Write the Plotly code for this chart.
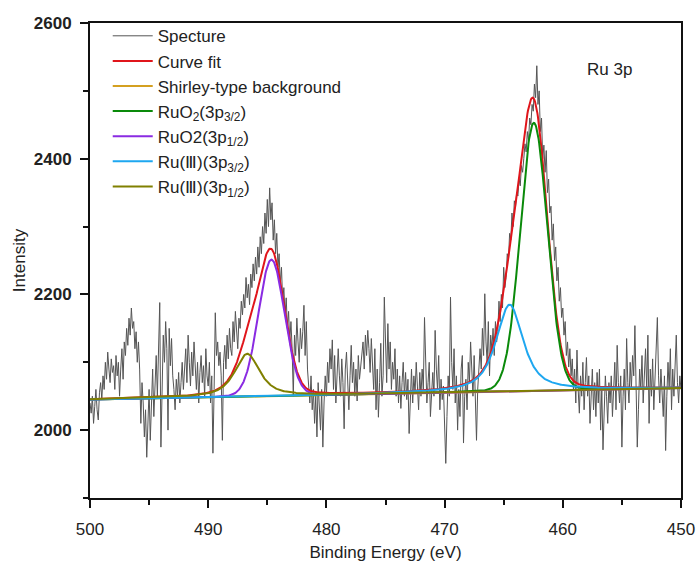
import numpy as np
import plotly.graph_objects as go

# ---------------- data ----------------
energy_start = 500.0
energy_step = -0.1
spectrum_counts = [
    2040, 2025, 2050, 2010, 2035, 2060, 2030, 2015, 2055, 2070,
    2045, 2080, 2060, 2100, 2075, 2115, 2090, 2070, 2105, 2085,
    2095, 2060, 2110, 2080, 2100, 2050, 2090, 2120, 2075, 2130,
    2110, 2150, 2125, 2165, 2140, 2180, 2150, 2160, 2120, 2145,
    2100, 2130, 2090, 2010, 2070, 2040, 1990, 2030, 1960, 2000,
    2060, 1985, 2040, 2090, 2020, 2070, 2110, 2050, 2130, 2188,
    1975, 2080, 2140, 2100, 2160, 2120, 2000, 2150, 2095, 2135,
    2080, 2060, 2030, 2075, 2050, 2085, 2040, 2070, 2100, 2060,
    2090, 2120, 2070, 2140, 2100, 2065, 2115, 2080, 2130, 2095,
    2060, 2100, 2040, 2085, 2110, 2070, 2095, 2050, 2120, 2080,
    2065, 2100, 2040, 2080, 1966, 2060, 2173, 2110, 2130, 2095,
    2115, 2080, 1985, 2100, 2125, 2090, 2140, 2105, 2150, 2120,
    2110, 2160, 2130, 2175, 2140, 2120, 2165, 2150, 2190, 2170,
    2200, 2180, 2225, 2195, 2215, 2185, 2230, 2210, 2245, 2220,
    2255, 2230, 2270, 2240, 2285, 2260, 2300, 2275, 2320, 2290,
    2340, 2300, 2357, 2310, 2335, 2280, 2310, 2260, 2290, 2240,
    2260, 2215, 2240, 2190, 2210, 2170, 2195, 2150, 2175, 2130,
    2160, 2120, 2050, 2140, 2110, 2165, 2130, 2100, 2150, 2120,
    2145, 2184, 2110, 2160, 2090, 2070, 2040, 2080, 2030, 2060,
    2010, 2050, 1990, 2070, 2030, 2000, 2060, 1975, 2040, 2080,
    2050, 2100, 2070, 2120, 2090, 2133, 2060, 2110, 2040, 2095,
    2120, 2080, 2050, 2105, 2070, 2002, 2090, 2115, 2060, 2030,
    2080, 2125, 2070, 2100, 2050, 2090, 2043, 2110, 2075, 2095,
    2105, 2130, 2090, 2140, 2110, 2147, 2120, 2085, 2135, 2100,
    2060, 2120, 2030, 2090, 2019, 2070, 2128, 2050, 2080, 2196,
    2110, 2070, 2157, 2090, 2130, 2060, 2100, 2075, 2120, 2050,
    2090, 2040, 2080, 2032, 2070, 2100, 2050, 2085, 2045, 2075,
    1995, 2060, 2090, 2040, 2080, 2055, 2100, 2065, 2030, 2085,
    2050, 2090, 2060, 2166, 2080, 2040, 2070, 2100, 2020, 2060,
    2085, 2050, 2147, 2090, 2060, 2110, 2030, 2075, 2045, 2065,
    1990, 1951, 2020, 2080, 2050, 2196, 2100, 2060, 2120, 2040,
    2080, 2000, 2060, 2020, 2090, 2110, 1981, 2050, 2075, 2030,
    2100, 2070, 2130, 2085, 2050, 2110, 2030, 1985, 2060, 2088,
    2120, 2090, 2150, 2110, 2201, 2130, 2100, 2160, 2080, 2140,
    2120, 2150, 2110, 2160, 2130, 2145, 2190, 2160, 2200, 2180,
    2240, 2210, 2225, 2260, 2250, 2290, 2280, 2320, 2300, 2338,
    2330, 2350, 2345, 2370, 2360, 2390, 2380, 2400, 2422, 2410,
    2440, 2425, 2460, 2450, 2480, 2470, 2510, 2490, 2537, 2480,
    2500, 2440, 2460, 2400, 2420, 2380, 2412, 2350, 2370, 2320,
    2330, 2280, 2304, 2250, 2270, 2220, 2240, 2190, 2210, 2166,
    2180, 2140, 2160, 2110, 2130, 2093, 2120, 2080, 2105, 2060,
    2090, 2040, 2118, 2060, 2025, 2080, 2050, 2100, 2030, 2070,
    2107, 2050, 2080, 2010, 2060, 2090, 2030, 2070, 2020, 2085,
    2040, 2090, 2000, 2060, 1971, 2030, 2080, 2050, 2010, 2070,
    2040, 2080, 2020, 2060, 2100, 2030, 2125, 2070, 2040, 2080,
    1975, 2050, 2090, 2030, 2135, 2070, 2040, 2100, 2060, 2110,
    2080, 2154, 2050, 1975, 2030, 2090, 2060, 2110, 2040, 2080,
    2120, 2060, 2140, 2010, 2090, 2050, 2105, 2030, 2070, 2130,
    2166, 2080, 2040, 2090, 2060, 2020, 2080, 1970, 2050, 2100,
    2060, 2120, 2030, 2090, 2050, 2110, 2140, 2070, 2040, 2080,
    2060,
]

# Shirley-type background end points (binding energy, intensity)
background_energy = [500.0, 450.0]
background_values = [2045.0, 2062.0]

# Fitted components
component_names = [
    "RuO<sub>2</sub>(3p<sub>3/2</sub>)",
    "RuO2(3p<sub>1/2</sub>)",
    "Ru(\u2162)(3p<sub>3/2</sub>)",
    "Ru(\u2162)(3p<sub>1/2</sub>)",
]
component_centers = [462.45, 484.65, 464.5, 486.7]
component_heights = [395.0, 201.0, 128.0, 63.0]
component_fwhm = [2.7, 2.6, 2.7, 2.5]
component_lorentz = [0.05, 0.05, 0.75, 0.75]
component_colors = ["#0A8A0A", "#8A2BE2", "#1EA7F0", "#808000"]

x_ticks = [500, 490, 480, 470, 460, 450]
y_ticks = [2000, 2200, 2400, 2600]

# ---------------- build ----------------
energy = energy_start + energy_step * np.arange(len(spectrum_counts))


def pseudo_voigt(x, c, h, w, eta):
    d2 = 4.0 * (x - c) ** 2 / w ** 2
    return h * ((1 - eta) * np.exp(-np.log(2) * d2) + eta / (1 + d2))


fine = np.linspace(500, 450, 1001)
bg_fine = np.interp(fine, background_energy[::-1], background_values[::-1])
comps = [pseudo_voigt(fine, c, h, w, e) for c, h, w, e in
         zip(component_centers, component_heights, component_fwhm, component_lorentz)]
fit = bg_fine + np.sum(comps, axis=0)

FONT = "Arial, Liberation Sans, sans-serif"
fig = go.Figure()
fig.add_trace(go.Scatter(x=energy, y=spectrum_counts, mode="lines", name="Specture",
                         line=dict(color="#555555", width=1)))
fig.add_trace(go.Scatter(x=fine, y=fit, mode="lines", name="Curve fit",
                         line=dict(color="#E0151B", width=2)))
fig.add_trace(go.Scatter(x=background_energy, y=background_values, mode="lines",
                         name="Shirley-type background",
                         line=dict(color="#D4A020", width=2)))
for name, comp, col in zip(component_names, comps, component_colors):
    fig.add_trace(go.Scatter(x=fine, y=bg_fine + comp, mode="lines", name=name,
                             line=dict(color=col, width=2)))

fig.add_annotation(text="Ru 3p", xref="paper", yref="paper", x=0.838, y=0.903,
                   xanchor="left", yanchor="middle", showarrow=False,
                   font=dict(family=FONT, size=17, color="#222"))

fig.update_layout(
    width=697, height=562,
    margin=dict(l=90, r=16, t=23, b=64),
    paper_bgcolor="white", plot_bgcolor="white",
    font=dict(family=FONT, size=17, color="#222"),
    showlegend=True,
    legend=dict(x=0.03, y=1.01, xanchor="left", yanchor="top",
                bgcolor="rgba(0,0,0,0)", font=dict(size=17, family=FONT, color="#222"),
                tracegroupgap=0, itemwidth=40),
    xaxis=dict(range=[500, 450], tickvals=x_ticks, ticks="outside", ticklen=8, tickwidth=2,
               showline=True, linecolor="#111", linewidth=2, mirror=True,
               showgrid=False, zeroline=False, automargin=False, ticklabelstandoff=7,
               minor=dict(dtick=5, ticks="outside", ticklen=5, tickwidth=2, tickcolor="#111"),
               tickcolor="#111",
               title=dict(text="Binding Energy (eV)", standoff=11, font=dict(size=17)),
               tickfont=dict(size=17, family=FONT)),
    yaxis=dict(range=[1900, 2600], tickvals=y_ticks, ticks="outside", ticklen=8, tickwidth=2,
               showline=True, linecolor="#111", linewidth=2, mirror=True,
               showgrid=False, zeroline=False, automargin=False, ticklabelstandoff=5,
               minor=dict(dtick=100, ticks="outside", ticklen=5, tickwidth=2, tickcolor="#111"),
               tickcolor="#111",
               ticktext=["<b>%d</b>" % v for v in y_ticks],
               title=dict(text="Intensity", standoff=4, font=dict(size=17)),
               tickfont=dict(size=17, family=FONT)),
)

fig.write_html("out.html", config={"displayModeBar": False},
               post_script="document.body.style.margin='0px';")
